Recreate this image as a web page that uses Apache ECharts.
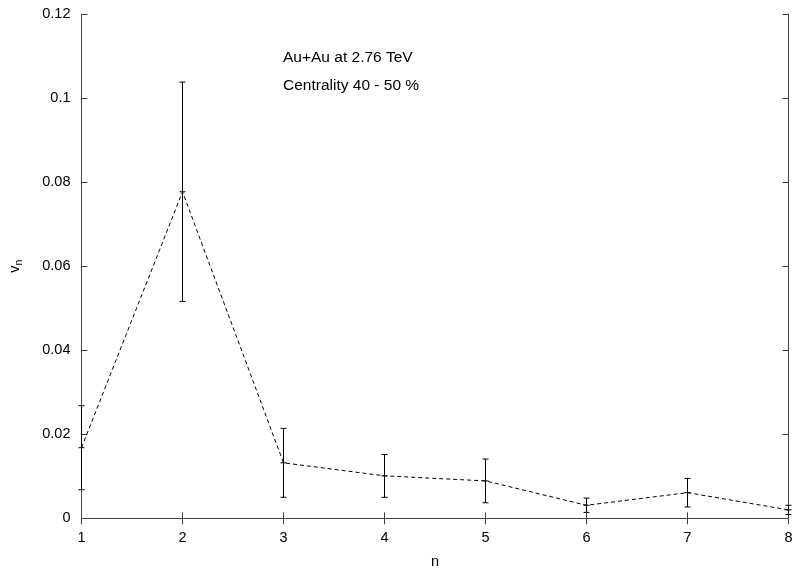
<!DOCTYPE html>
<html>
<head>
<meta charset="utf-8">
<script src="https://cdn.jsdelivr.net/npm/echarts@6/dist/echarts.min.js"></script>
<style>
html,body{margin:0;padding:0;background:#fff;}
#c{width:796px;height:569px;}
</style>
</head>
<body>
<div id="c"></div>
<script>
var harmonics = [1, 2, 3, 4, 5, 6, 7, 8];
var vn = [0.0168, 0.0777, 0.0132, 0.0101, 0.0089, 0.0031, 0.0061, 0.0020];
var vnErr = [0.0100, 0.0261, 0.0082, 0.0051, 0.0052, 0.0017, 0.0034, 0.0011];
var yTicks = [0, 0.02, 0.04, 0.06, 0.08, 0.1, 0.12];
var annotations = ['Au+Au at 2.76 TeV', 'Centrality 40 - 50 %'];

var lineData = harmonics.map(function (n, i) { return [n, vn[i]]; });
var errData = harmonics.map(function (n, i) { return [n, vn[i], vn[i] - vnErr[i], vn[i] + vnErr[i]]; });

var FONT = 'Liberation Sans, Arial, sans-serif';
var axisCol = '#404040';

var chart = echarts.init(document.getElementById('c'));
var commonX = {
  type: 'value', min: 1, max: 8, interval: 1,
  axisLine: { show: true, lineStyle: { color: axisCol, width: 1 } },
  axisTick: { show: true, inside: true, length: 6, lineStyle: { color: axisCol } },
  splitLine: { show: false }
};
var commonY = {
  type: 'value', min: 0, max: 0.12, interval: 0.02,
  axisLine: { show: true, lineStyle: { color: axisCol, width: 1 } },
  axisTick: { show: true, inside: true, length: 6, lineStyle: { color: axisCol } },
  splitLine: { show: false }
};
chart.setOption({
  animation: false,
  backgroundColor: '#fff',
  grid: { left: 81.5, right: 7.5, top: 14, bottom: 50.7, containLabel: false, outerBoundsMode: 'none' },
  xAxis: [
    Object.assign({}, commonX, {
      position: 'bottom',
      name: 'n', nameLocation: 'middle', nameGap: 36,
      nameTextStyle: { color: '#000', fontSize: 14.5, fontFamily: FONT },
      axisLabel: { color: '#000', fontSize: 14.5, fontFamily: FONT, margin: 12 }
    }),
    Object.assign({}, commonX, { position: 'top', axisLabel: { show: false } })
  ],
  yAxis: [
    Object.assign({}, commonY, {
      position: 'left',
      name: '{v|v}{s|n}', nameLocation: 'middle', nameGap: 57,
      nameTextStyle: { rich: {
        v: { color: '#000', fontSize: 14.5, fontFamily: FONT },
        s: { color: '#000', fontSize: 10.5, fontFamily: FONT, verticalAlign: 'bottom', padding: [8, 0, 0, 0] }
      } },
      axisLabel: { color: '#000', fontSize: 14.5, fontFamily: FONT, margin: 11,
        formatter: function (v) { return String(+v.toFixed(2)); } }
    }),
    Object.assign({}, commonY, { position: 'right', axisLabel: { show: false } })
  ],
  graphic: [
    { type: 'text', left: 283, top: 50, style: { text: annotations[0], fill: '#000', font: '15.5px ' + FONT } },
    { type: 'text', left: 283, top: 78, style: { text: annotations[1], fill: '#000', font: '15.5px ' + FONT } }
  ],
  series: [
    {
      type: 'line', data: lineData, symbol: 'none', silent: true,
      lineStyle: { color: '#000', width: 1, type: [4, 3] }, z: 2
    },
    {
      type: 'custom', data: errData, silent: true, z: 3,
      renderItem: function (params, api) {
        var x = api.value(0);
        var p = api.coord([x, api.value(1)]);
        var lo = api.coord([x, api.value(2)]);
        var hi = api.coord([x, api.value(3)]);
        var w = 3;
        var st = { stroke: '#000', lineWidth: 1 };
        return {
          type: 'group',
          children: [
            { type: 'line', shape: { x1: p[0], y1: hi[1], x2: p[0], y2: lo[1] }, style: st },
            { type: 'line', shape: { x1: p[0] - w, y1: hi[1], x2: p[0] + w, y2: hi[1] }, style: st },
            { type: 'line', shape: { x1: p[0] - w, y1: lo[1], x2: p[0] + w, y2: lo[1] }, style: st },
            { type: 'line', shape: { x1: p[0] - w, y1: p[1], x2: p[0] + w, y2: p[1] }, style: st }
          ]
        };
      }
    }
  ]
});
</script>
</body>
</html>
